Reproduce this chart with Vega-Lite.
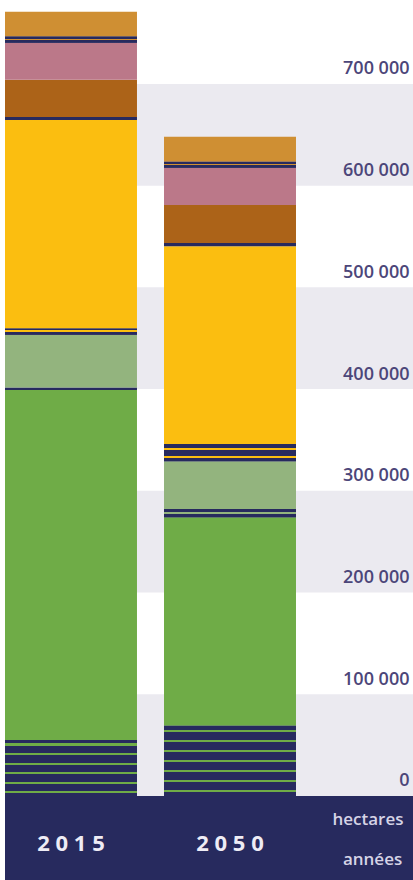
{
  "$schema": "https://vega.github.io/schema/vega-lite/v6.json",
  "width": 408,
  "height": 880,
  "autosize": "none",
  "padding": {"left": 5, "top": 0, "right": 0, "bottom": 0},
  "background": "white",
  "config": {"view": {"stroke": null}},
  "datasets": {
    "bands": [
      {"lo": 0, "hi": 100000},
      {"lo": 200000, "hi": 300000},
      {"lo": 400000, "hi": 500000},
      {"lo": 600000, "hi": 700000}
    ],
    "base": [{"lo": -82600, "hi": 0}],
    "seg": [
      {"year": "2015", "key": "green_p", "ord": 1, "v": 55000},
      {"year": "2015", "key": "green", "ord": 2, "v": 344000},
      {"year": "2015", "key": "sage_p", "ord": 3, "v": 2500},
      {"year": "2015", "key": "sage", "ord": 4, "v": 52000},
      {"year": "2015", "key": "yellow_p", "ord": 5, "v": 6000},
      {"year": "2015", "key": "yellow", "ord": 6, "v": 205000},
      {"year": "2015", "key": "brown_p", "ord": 7, "v": 3000},
      {"year": "2015", "key": "brown", "ord": 8, "v": 36500},
      {"year": "2015", "key": "pink", "ord": 9, "v": 36500},
      {"year": "2015", "key": "orange_p", "ord": 10, "v": 6000},
      {"year": "2015", "key": "orange", "ord": 11, "v": 24500},
      {"year": "2050", "key": "green_p", "ord": 1, "v": 69000},
      {"year": "2050", "key": "green", "ord": 2, "v": 205000},
      {"year": "2050", "key": "sage_p", "ord": 3, "v": 8000},
      {"year": "2050", "key": "sage", "ord": 4, "v": 47000},
      {"year": "2050", "key": "yellow_p", "ord": 5, "v": 17000},
      {"year": "2050", "key": "yellow", "ord": 6, "v": 194500},
      {"year": "2050", "key": "brown_p", "ord": 7, "v": 3000},
      {"year": "2050", "key": "brown", "ord": 8, "v": 37500},
      {"year": "2050", "key": "pink", "ord": 9, "v": 36500},
      {"year": "2050", "key": "orange_p", "ord": 10, "v": 6000},
      {"year": "2050", "key": "orange", "ord": 11, "v": 24500}
    ],
    "years": [
      {"year": "2015", "t": "2 0 1 5"},
      {"year": "2050", "t": "2 0 5 0"}
    ],
    "unit1": [{"year": "u", "t": "hectares"}],
    "unit2": [{"year": "u", "t": "années"}]
  },
  "layer": [
    {
      "data": {"name": "bands"},
      "mark": {"type": "rect", "color": "#ebeaf0"},
      "encoding": {
        "y": {"field": "lo", "type": "quantitative",
          "scale": {"domain": [-82600, 782500], "nice": false, "zero": false},
          "axis": {"orient": "right", "values": [0, 100000, 200000, 300000, 400000, 500000, 600000, 700000],
            "labelExpr": "datum.value == 0 ? '0' : format(datum.value / 1000, 'd') + ' 000'",
            "domain": false, "ticks": false, "tickSize": 0, "grid": false, "title": null, "zindex": 1,
            "labelAlign": "right", "labelPadding": -4, "labelBaseline": "alphabetic", "labelOffset": -10,
            "labelFont": "Open Sans", "labelFontSize": 18, "labelFontWeight": 600, "labelColor": "#4c4679",
            "labelFlush": false, "labelOverlap": false, "labelBound": false}},
        "y2": {"field": "hi"}
      }
    },
    {
      "data": {"name": "base"},
      "mark": {"type": "rect", "color": "#272a5e"},
      "encoding": {
        "y": {"field": "lo", "type": "quantitative"},
        "y2": {"field": "hi"}
      }
    },
    {
      "data": {"name": "seg"},
      "transform": [{"stack": "v", "groupby": ["year"], "sort": [{"field": "ord", "order": "ascending"}], "as": ["v0", "v1"]}],
      "layer": [
        {
          "mark": {"type": "bar"},
          "encoding": {
            "color": {"field": "key", "type": "nominal", "legend": null,
              "scale": {"domain": ["green_p", "green", "sage_p", "sage", "yellow_p", "yellow", "brown_p", "brown", "pink", "orange_p", "orange"],
                "range": ["#272a5e", "#6fac47", "#272a5e", "#93b47e", "#272a5e", "#fbbe10", "#272a5e", "#ac6318", "#bb7889", "#272a5e", "#cf8f33"]}}
          }
        },
        {
          "transform": [{"filter": "datum.key == 'green_p' && datum.year == '2015'"}],
          "mark": {"type": "bar", "fill": {"gradient": "linear", "x1": 0, "y1": 0, "x2": 0, "y2": 1, "stops": [
            {"offset": 0, "color": "#272a5e"}, {"offset": 0.062, "color": "#272a5e"},
            {"offset": 0.062, "color": "#6fac47"}, {"offset": 0.098, "color": "#6fac47"},
            {"offset": 0.098, "color": "#272a5e"}, {"offset": 0.232, "color": "#272a5e"},
            {"offset": 0.232, "color": "#6fac47"}, {"offset": 0.268, "color": "#6fac47"},
            {"offset": 0.268, "color": "#272a5e"}, {"offset": 0.402, "color": "#272a5e"},
            {"offset": 0.402, "color": "#6fac47"}, {"offset": 0.438, "color": "#6fac47"},
            {"offset": 0.438, "color": "#272a5e"}, {"offset": 0.572, "color": "#272a5e"},
            {"offset": 0.572, "color": "#6fac47"}, {"offset": 0.608, "color": "#6fac47"},
            {"offset": 0.608, "color": "#272a5e"}, {"offset": 0.742, "color": "#272a5e"},
            {"offset": 0.742, "color": "#6fac47"}, {"offset": 0.778, "color": "#6fac47"},
            {"offset": 0.778, "color": "#272a5e"}, {"offset": 0.912, "color": "#272a5e"},
            {"offset": 0.912, "color": "#6fac47"}, {"offset": 0.948, "color": "#6fac47"},
            {"offset": 0.948, "color": "#272a5e"}, {"offset": 1, "color": "#272a5e"}]}},
          "encoding": {}
        },
        {
          "transform": [{"filter": "datum.key == 'green_p' && datum.year == '2050'"}],
          "mark": {"type": "bar", "fill": {"gradient": "linear", "x1": 0, "y1": 0, "x2": 0, "y2": 1, "stops": [
            {"offset": 0, "color": "#272a5e"}, {"offset": 0.056, "color": "#272a5e"},
            {"offset": 0.056, "color": "#6fac47"}, {"offset": 0.084, "color": "#6fac47"},
            {"offset": 0.084, "color": "#272a5e"}, {"offset": 0.199, "color": "#272a5e"},
            {"offset": 0.199, "color": "#6fac47"}, {"offset": 0.227, "color": "#6fac47"},
            {"offset": 0.227, "color": "#272a5e"}, {"offset": 0.342, "color": "#272a5e"},
            {"offset": 0.342, "color": "#6fac47"}, {"offset": 0.370, "color": "#6fac47"},
            {"offset": 0.370, "color": "#272a5e"}, {"offset": 0.486, "color": "#272a5e"},
            {"offset": 0.486, "color": "#6fac47"}, {"offset": 0.514, "color": "#6fac47"},
            {"offset": 0.514, "color": "#272a5e"}, {"offset": 0.629, "color": "#272a5e"},
            {"offset": 0.629, "color": "#6fac47"}, {"offset": 0.657, "color": "#6fac47"},
            {"offset": 0.657, "color": "#272a5e"}, {"offset": 0.772, "color": "#272a5e"},
            {"offset": 0.772, "color": "#6fac47"}, {"offset": 0.800, "color": "#6fac47"},
            {"offset": 0.800, "color": "#272a5e"}, {"offset": 0.915, "color": "#272a5e"},
            {"offset": 0.915, "color": "#6fac47"}, {"offset": 0.943, "color": "#6fac47"},
            {"offset": 0.943, "color": "#272a5e"}, {"offset": 1, "color": "#272a5e"}]}},
          "encoding": {}
        },
        {
          "transform": [{"filter": "datum.key == 'sage_p' && datum.year == '2050'"}],
          "mark": {"type": "bar", "fill": {"gradient": "linear", "x1": 0, "y1": 0, "x2": 0, "y2": 1, "stops": [
            {"offset": 0, "color": "#272a5e"}, {"offset": 0.4, "color": "#272a5e"},
            {"offset": 0.4, "color": "#93b47e"}, {"offset": 0.62, "color": "#93b47e"},
            {"offset": 0.62, "color": "#272a5e"}, {"offset": 1, "color": "#272a5e"}]}},
          "encoding": {}
        },
        {
          "transform": [{"filter": "datum.key == 'yellow_p' && datum.year == '2015'"}],
          "mark": {"type": "bar", "fill": {"gradient": "linear", "x1": 0, "y1": 0, "x2": 0, "y2": 1, "stops": [
            {"offset": 0, "color": "#272a5e"}, {"offset": 0.3, "color": "#272a5e"},
            {"offset": 0.3, "color": "#fbbe10"}, {"offset": 0.55, "color": "#fbbe10"},
            {"offset": 0.55, "color": "#272a5e"}, {"offset": 1, "color": "#272a5e"}]}},
          "encoding": {}
        },
        {
          "transform": [{"filter": "datum.key == 'yellow_p' && datum.year == '2050'"}],
          "mark": {"type": "bar", "fill": {"gradient": "linear", "x1": 0, "y1": 0, "x2": 0, "y2": 1, "stops": [
            {"offset": 0, "color": "#272a5e"}, {"offset": 0.22, "color": "#272a5e"},
            {"offset": 0.22, "color": "#fbbe10"}, {"offset": 0.33, "color": "#fbbe10"},
            {"offset": 0.33, "color": "#272a5e"}, {"offset": 0.68, "color": "#272a5e"},
            {"offset": 0.68, "color": "#fbbe10"}, {"offset": 0.79, "color": "#fbbe10"},
            {"offset": 0.79, "color": "#272a5e"}, {"offset": 1, "color": "#272a5e"}]}},
          "encoding": {}
        },
        {
          "transform": [{"filter": "datum.key == 'orange_p'"}],
          "mark": {"type": "bar", "fill": {"gradient": "linear", "x1": 0, "y1": 0, "x2": 0, "y2": 1, "stops": [
            {"offset": 0, "color": "#272a5e"}, {"offset": 0.35, "color": "#272a5e"},
            {"offset": 0.35, "color": "#cf8f33"}, {"offset": 0.6, "color": "#cf8f33"},
            {"offset": 0.6, "color": "#272a5e"}, {"offset": 1, "color": "#272a5e"}]}},
          "encoding": {}
        }
      ],
      "encoding": {
        "x": {"field": "year", "type": "nominal", "axis": null,
          "scale": {"domain": ["2015", "2050", "u"], "range": [0, 450], "paddingInner": 0.17, "paddingOuter": 0}},
        "y": {"field": "v0", "type": "quantitative"},
        "y2": {"field": "v1"}
      }
    },
    {
      "data": {"name": "years"},
      "mark": {"type": "text", "font": "Open Sans", "fontSize": 22, "fontWeight": 700, "color": "#eeecf5", "align": "center", "baseline": "alphabetic"},
      "encoding": {
        "x": {"field": "year", "type": "nominal", "axis": null},
        "y": {"datum": -54000, "type": "quantitative"},
        "text": {"field": "t"}
      }
    },
    {
      "data": {"name": "unit1"},
      "mark": {"type": "text", "font": "Open Sans", "fontSize": 17, "fontWeight": 600, "color": "#d6d4e6", "align": "right", "baseline": "alphabetic"},
      "encoding": {
        "x": {"field": "year", "type": "nominal", "axis": null, "bandPosition": 0.61},
        "y": {"datum": -28500, "type": "quantitative"},
        "text": {"field": "t"}
      }
    },
    {
      "data": {"name": "unit2"},
      "mark": {"type": "text", "font": "Open Sans", "fontSize": 17, "fontWeight": 600, "color": "#d6d4e6", "align": "right", "baseline": "alphabetic"},
      "encoding": {
        "x": {"field": "year", "type": "nominal", "axis": null, "bandPosition": 0.6},
        "y": {"datum": -67800, "type": "quantitative"},
        "text": {"field": "t"}
      }
    }
  ]
}
